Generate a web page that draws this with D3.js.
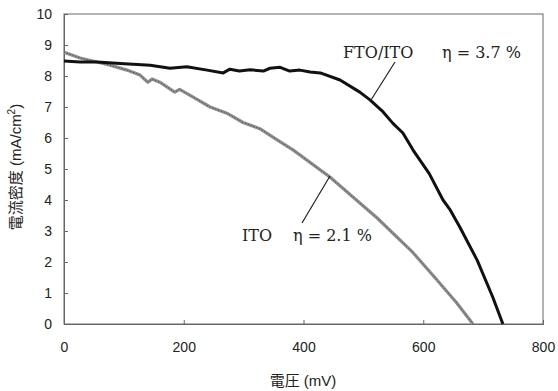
<!DOCTYPE html>
<html><head><meta charset="utf-8">
<script src="https://cdn.jsdelivr.net/npm/d3@7"></script>
<style>body{margin:0;background:#fff}svg{display:block}</style>
</head><body>
<svg id="c" width="558" height="391"></svg>
<script>
const xTicks = [0, 200, 400, 600, 800];
const yTicks = [0,1,2,3,4,5,6,7,8,9,10];
const ftoV = [0,27,55,94,144,177,205,239,266,277,293,311,333,344,361,377,394,411,428,461,494,511,533,549,566,583,610,633,645,661,690,716,733];
const ftoJ = [8.48,8.45,8.45,8.4,8.35,8.25,8.3,8.19,8.1,8.22,8.16,8.2,8.16,8.25,8.28,8.16,8.19,8.13,8.1,7.87,7.48,7.23,6.84,6.48,6.16,5.61,4.85,4.0,3.68,3.13,2.06,0.87,0];
const itoV = [0,27,55,77,105,127,140,147,160,185,193,215,244,272,299,327,356,383,444,523,583,623,656,683];
const itoJ = [8.77,8.58,8.45,8.35,8.19,8.03,7.8,7.9,7.8,7.48,7.57,7.33,7.0,6.8,6.5,6.3,5.94,5.61,4.74,3.42,2.3,1.42,0.68,0];
const labels = {fto:"FTO/ITO", ftoEta:"η = 3.7 %", ito:"ITO", itoEta:"η = 2.1 %"};

const svg = d3.select("#c");
const L=64, R=543, T=14, B=324;
const x = d3.scaleLinear().domain([0,800]).range([L,R]);
const y = d3.scaleLinear().domain([0,10]).range([B,T]);
const axisColor = "#666";

svg.append("rect").attr("x",L).attr("y",T).attr("width",R-L).attr("height",B-T)
  .attr("fill","none").attr("stroke",axisColor).attr("stroke-width",1);

const xa = svg.append("g").attr("transform",`translate(0,${B})`)
  .call(d3.axisBottom(x).tickValues(xTicks).tickSize(-4).tickPadding(18).tickFormat(d3.format("d")));
const ya = svg.append("g").attr("transform",`translate(${L},0)`)
  .call(d3.axisLeft(y).tickValues(yTicks).tickSize(-4).tickPadding(12).tickFormat(d3.format("d")));
[xa,ya].forEach(a=>{
  a.select(".domain").attr("stroke",axisColor);
  a.selectAll(".tick line").attr("stroke",axisColor);
  a.selectAll(".tick text").attr("fill","#222").style("font-family","'Liberation Sans',Arial,sans-serif").style("font-size","14px");
});

const line = d3.line().x(d=>x(d[0])).y(d=>y(d[1]));
const itoData = itoV.map((v,i)=>[v,itoJ[i]]);
const ftoData = ftoV.map((v,i)=>[v,ftoJ[i]]);
svg.append("path").attr("d",line(itoData)).attr("fill","none").attr("stroke","#8e8e8e").attr("stroke-width",3.2).attr("stroke-linejoin","round");
svg.append("path").attr("d",line(itoData)).attr("fill","none").attr("stroke","#444").attr("stroke-width",1).attr("stroke-dasharray","1,2");
svg.append("path").attr("d",line(ftoData)).attr("fill","none").attr("stroke","#111").attr("stroke-width",3).attr("stroke-linejoin","round");

const serif = "'DejaVu Serif','Liberation Serif',serif";
svg.append("line").attr("x1",395).attr("y1",62).attr("x2",371).attr("y2",100).attr("stroke","#222").attr("stroke-width",1.2);
svg.append("line").attr("x1",302).attr("y1",223).attr("x2",330).attr("y2",176).attr("stroke","#222").attr("stroke-width",1.2);
[[labels.fto,343,58],[labels.ftoEta,442,58],[labels.ito,242,241],[labels.itoEta,293,241]].forEach(([t,tx,ty])=>{
  svg.append("text").attr("x",tx).attr("y",ty).text(t).style("font-family",serif).style("font-size","16px").attr("fill","#222");
});

const sans = "'Liberation Sans','Noto Sans CJK JP',sans-serif";
svg.append("text").attr("x",303).attr("y",386).attr("text-anchor","middle")
  .style("font-family",sans).style("font-size","15px").attr("fill","#222").text("電圧 (mV)");
const yt = svg.append("text").attr("transform","translate(21,167) rotate(-90)").attr("text-anchor","middle")
  .style("font-family",sans).style("font-size","15px").attr("fill","#222");
yt.append("tspan").text("電流密度 (mA/cm");
yt.append("tspan").attr("dy",-6).style("font-size","10px").text("2");
yt.append("tspan").attr("dy",6).text(")");
</script>
</body></html>
